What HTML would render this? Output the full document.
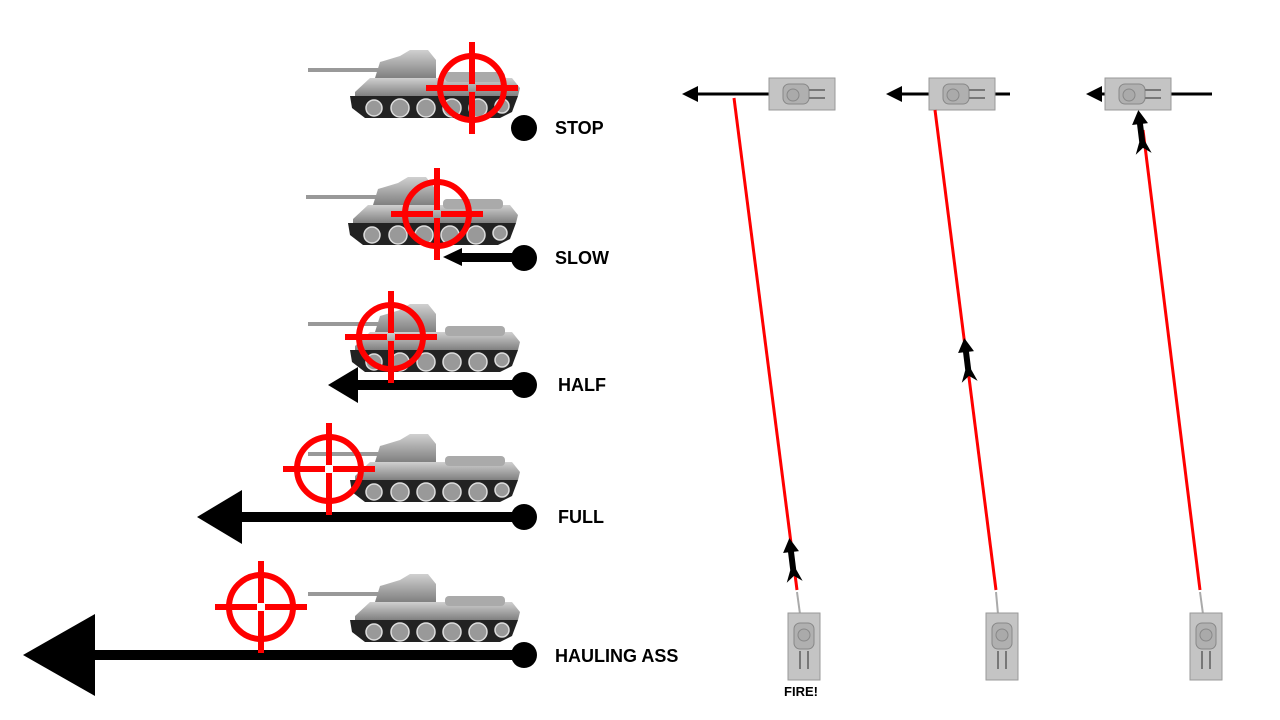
<!DOCTYPE html>
<html><head><meta charset="utf-8"><style>
html,body{margin:0;padding:0;background:#fff;width:1280px;height:720px;overflow:hidden}
svg{display:block}
text{font-family:"Liberation Sans",Arial,sans-serif;font-weight:bold}
</style></head><body>
<svg width="1280" height="720" viewBox="0 0 1280 720" xmlns="http://www.w3.org/2000/svg">
<defs>
<linearGradient id="tg" x1="0" y1="0" x2="0" y2="1"><stop offset="0" stop-color="#d0d0d0"/><stop offset="1" stop-color="#808080"/></linearGradient>
<g id="tank">
  <rect x="-212" y="-50" width="90" height="4" fill="#999"/>
  <path d="M-145,-40 L-140,-56 L-120,-62 L-110,-68 L-92,-68 L-84,-58 L-84,-40 Z" fill="url(#tg)"/>
  <path d="M-165,-26 L-150,-40 L-8,-40 L0,-30 L-2,-22 L-165,-22 Z" fill="url(#tg)"/>
  <rect x="-75" y="-46" width="60" height="10" rx="4" fill="#aaa"/>
  <path d="M-170,-22 L-2,-22 L-8,-6 L-20,0 L-155,0 L-168,-10 Z" fill="#222"/>
  <g fill="#999" stroke="#ddd" stroke-width="1.5">
    <circle cx="-146" cy="-10" r="8"/><circle cx="-120" cy="-10" r="9"/><circle cx="-94" cy="-10" r="9"/><circle cx="-68" cy="-10" r="9"/><circle cx="-42" cy="-10" r="9"/><circle cx="-18" cy="-12" r="7"/>
  </g>
</g>
<g id="top">
  <rect x="0" y="0" width="66" height="32" fill="#c4c4c4" stroke="#999"/>
  <rect x="14" y="6" width="26" height="20" rx="6" fill="#b0b0b0" stroke="#888"/>
  <circle cx="24" cy="17" r="6" fill="#aaa" stroke="#888"/>
  <line x1="40" y1="12" x2="56" y2="12" stroke="#777" stroke-width="2"/><line x1="40" y1="20" x2="56" y2="20" stroke="#777" stroke-width="2"/>
</g>
<g id="bot">
  <rect x="0" y="0" width="32" height="67" fill="#c4c4c4" stroke="#999"/>
  <rect x="6" y="10" width="20" height="26" rx="6" fill="#b0b0b0" stroke="#888"/>
  <circle cx="16" cy="22" r="6" fill="#aaa" stroke="#888"/>
  <line x1="12" y1="38" x2="12" y2="56" stroke="#777" stroke-width="2"/><line x1="20" y1="38" x2="20" y2="56" stroke="#777" stroke-width="2"/>
</g>
<g id="msl">
  <path d="M0,-22 L8,-8 L3,-8 L3,10 L8,22 L0,16 L-8,22 L-3,10 L-3,-8 L-8,-8 Z" fill="#000"/>
</g>
<g id="ch" fill="none" stroke="#f00" stroke-width="6">
  <circle r="32"/>
  <line x1="-46" y1="0" x2="-4" y2="0"/><line x1="4" y1="0" x2="46" y2="0"/>
  <line x1="0" y1="-46" x2="0" y2="-4"/><line x1="0" y1="4" x2="0" y2="46"/>
</g>
</defs>

<use href="#tank" transform="translate(520,118)"/>
<use href="#tank" transform="translate(518,245)"/>
<use href="#tank" transform="translate(520,372)"/>
<use href="#tank" transform="translate(520,502)"/>
<use href="#tank" transform="translate(520,642)"/>

<g fill="#000">
  <rect x="455" y="253" width="70" height="9"/><path d="M443,257 L462,248 L462,266 Z"/>
  <rect x="350" y="380" width="175" height="10"/><path d="M328,385 L358,367 L358,403 Z"/>
  <rect x="230" y="512" width="295" height="10"/><path d="M197,517 L242,490 L242,544 Z"/>
  <rect x="85" y="650" width="440" height="10"/><path d="M23,655 L95,614 L95,696 Z"/>
  <circle cx="524" cy="128" r="13"/><circle cx="524" cy="258" r="13"/><circle cx="524" cy="385" r="13"/><circle cx="524" cy="517" r="13"/><circle cx="524" cy="655" r="13"/>
</g>

<use href="#ch" transform="translate(472,88)"/>
<use href="#ch" transform="translate(437,214)"/>
<use href="#ch" transform="translate(391,337)"/>
<use href="#ch" transform="translate(329,469)"/>
<use href="#ch" transform="translate(261,607)"/>

<g font-size="18" fill="#000">
<text x="555" y="134">STOP</text>
<text x="555" y="264">SLOW</text>
<text x="558" y="391">HALF</text>
<text x="558" y="523">FULL</text>
<text x="555" y="662">HAULING ASS</text>
</g>

<g stroke="#000" stroke-width="3">
  <line x1="692" y1="94" x2="770" y2="94"/>
  <line x1="896" y1="94" x2="1010" y2="94"/>
  <line x1="1092" y1="94" x2="1212" y2="94"/>
</g>
<path d="M682,94 L698,86 L698,102 Z"/><path d="M886,94 L902,86 L902,102 Z"/><path d="M1086,94 L1102,86 L1102,102 Z"/>
<use href="#top" transform="translate(769,78)"/>
<use href="#top" transform="translate(929,78)"/>
<use href="#top" transform="translate(1105,78)"/>
<g stroke="#f00" stroke-width="3">
  <line x1="734" y1="98" x2="797" y2="590"/>
  <line x1="935" y1="110" x2="996" y2="590"/>
  <line x1="1143" y1="130" x2="1200" y2="590"/>
</g>
<g stroke="#aaa" stroke-width="2">
  <line x1="797" y1="592" x2="800" y2="614"/><line x1="996" y1="592" x2="998" y2="614"/><line x1="1200" y1="592" x2="1203" y2="614"/>
</g>
<use href="#msl" transform="translate(792,560) rotate(-7)"/>
<use href="#msl" transform="translate(967,360) rotate(-7)"/>
<use href="#msl" transform="translate(1141,132) rotate(-7)"/>
<use href="#bot" transform="translate(788,613)"/>
<use href="#bot" transform="translate(986,613)"/>
<use href="#bot" transform="translate(1190,613)"/>
<text x="801" y="696" font-size="13" text-anchor="middle">FIRE!</text>
</svg>
</body></html>
